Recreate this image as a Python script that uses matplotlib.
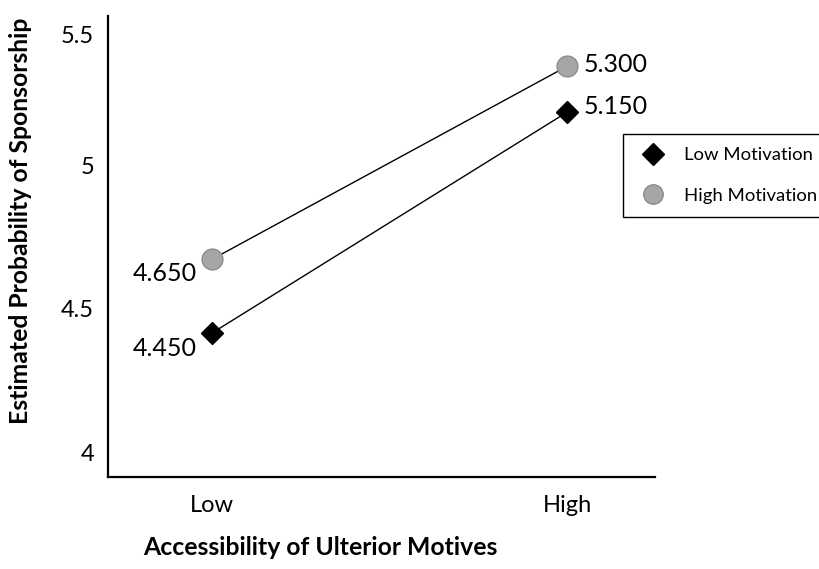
import matplotlib.pyplot as plt
from matplotlib.transforms import ScaledTranslation

# data
groups = ['Low', 'High']
low_motivation = [4.415, 5.185]
high_motivation = [4.672, 5.345]
low_labels = ['4.450', '5.150']
high_labels = ['4.650', '5.300']
y_ticks = [4, 4.5, 5, 5.5]

plt.rcParams['font.family'] = ['Lato', 'DejaVu Sans']

fig = plt.figure(figsize=(8.19, 5.69), dpi=100)
ax = fig.add_axes([0.1319, 0.1617, 0.668, 0.810])

x = list(range(len(groups)))
ax.plot(x, low_motivation, color='black', lw=1.0, marker='D', ms=11,
        mfc='black', mec='black', label='Low Motivation', zorder=3)
ax.plot(x, high_motivation, color='black', lw=1.0, marker='o', ms=15,
        mfc='#a6a6a6', mec='#8c8c8c', mew=1.0, label='High Motivation', zorder=3)

# value labels: left of the Low points, right of the High points
ax.annotate(high_labels[0], (x[0], high_motivation[0]), xytext=(-11, -10),
            textcoords='offset points', ha='right', va='center', fontsize=18)
ax.annotate(low_labels[0], (x[0], low_motivation[0]), xytext=(-11, -11),
            textcoords='offset points', ha='right', va='center', fontsize=18)
ax.annotate(high_labels[1], (x[1], high_motivation[1]), xytext=(12, 1),
            textcoords='offset points', ha='left', va='center', fontsize=18)
ax.annotate(low_labels[1], (x[1], low_motivation[1]), xytext=(12, 4),
            textcoords='offset points', ha='left', va='center', fontsize=18)

ax.set_xlim(-0.293, 1.248)
ax.set_ylim(3.913, 5.52)
ax.set_xticks(x)
ax.set_xticklabels(groups, fontsize=17)
ax.set_yticks(y_ticks)
ax.set_yticklabels(['4', '4.5', '5', '5.5'], fontsize=17)
ax.tick_params(length=0)
ax.tick_params(axis='x', pad=13)
ax.tick_params(axis='y', pad=10)
# top label sits a little lower in the original
top_lab = ax.get_yticklabels()[-1]
top_lab.set_transform(top_lab.get_transform() + ScaledTranslation(0, -0.13, fig.dpi_scale_trans))

for side in ['top', 'right']:
    ax.spines[side].set_visible(False)
for side in ['left', 'bottom']:
    ax.spines[side].set_linewidth(1.6)

fig.text(0.391, 0.037, 'Accessibility of Ulterior Motives', fontsize=17.8,
         fontweight='bold', ha='center', va='center')
fig.text(0.025, 0.612, 'Estimated Probability of Sponsorship', fontsize=17.8,
         fontweight='bold', ha='center', va='center', rotation=90)

# the legend box runs past the right edge, as in the original
leg = ax.legend(loc='upper left', bbox_to_anchor=(0.9415, 0.744), fontsize=13.3,
                frameon=True, fancybox=False, edgecolor='black', framealpha=1,
                handletextpad=0.8, borderpad=0.7, labelspacing=1.35,
                borderaxespad=0, handlelength=1.8)
leg.get_frame().set_linewidth(1.0)
for line in leg.get_lines():
    line.set_linestyle('none')
leg.legend_handles[0].set_markersize(11)
leg.legend_handles[1].set_markersize(14)

fig.savefig('out.png', dpi=100)
